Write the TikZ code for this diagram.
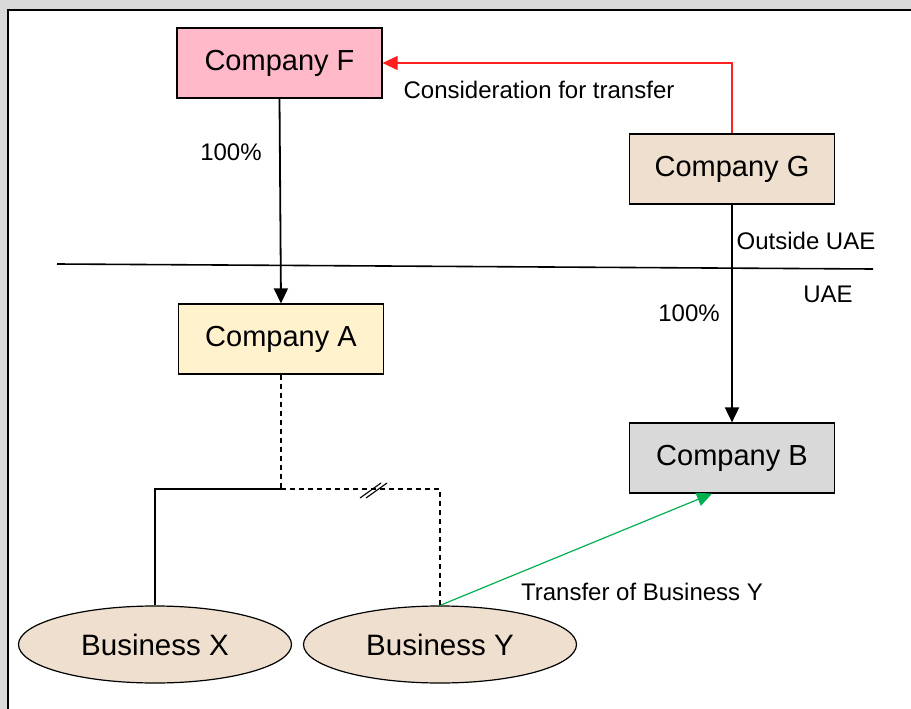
\documentclass[tikz,border=0pt]{standalone}
\usepackage{fontspec}
\setmainfont{Liberation Sans}
\usetikzlibrary{arrows.meta,shapes.geometric,calc}
\definecolor{pinkF}{HTML}{FFB9C8}
\definecolor{beige}{HTML}{EEDFCF}
\definecolor{yellowA}{HTML}{FFF2CC}
\definecolor{grayB}{HTML}{D9D9D9}
\definecolor{bggray}{HTML}{D9D9D9}
\definecolor{redline}{HTML}{FF2020}
\definecolor{greenline}{HTML}{00B050}
\newcommand{\lowtext}[1]{\raisebox{-5pt}{#1}}
\tikzset{
  company/.style={draw=black, line width=1.2pt, minimum width=205pt, minimum height=70pt, inner sep=0pt, font=\fontsize{29}{33}\selectfont},
  business/.style={ellipse, draw=black, line width=1.2pt, fill=beige, minimum width=273pt, minimum height=77pt, inner sep=0pt, font=\fontsize{29.5}{33}\selectfont},
  lbl/.style={font=\fontsize{24}{28}\selectfont, inner sep=0pt},
  conn/.style={line width=1.8pt, black},
  arr/.style={conn, -{Triangle[length=15pt,width=14pt]}},
}
\begin{document}
\begin{tikzpicture}[x=1pt,y=-1pt]
\useasboundingbox (0,0) rectangle (911,709);
\fill[bggray] (0,0) rectangle (911,709);
\filldraw[fill=white, draw=black, line width=2pt] (8,10) rectangle (930,730);

\node[company, fill=pinkF] (F) at (279.5,63) {\lowtext{Company F}};
\node[company, fill=beige] (G) at (732,169) {\lowtext{Company G}};
\node[company, fill=yellowA] (A) at (281,339) {\lowtext{Company A}};
\node[company, fill=grayB] (B) at (732,458) {\lowtext{Company B}};
\node[business] (X) at (155,644.5) {Business X};
\node[business] (Y) at (440,644.5) {Business Y};

% divider
\coordinate (dl) at (57,264);
\coordinate (dr) at (873,269);
\draw[line width=1.6pt] (dl) -- (dr);

% ownership arrows
\draw[arr] (F.south) -- (A.north);
\draw[arr] (G.south) -- (B.north);

% consideration
\draw[line width=1.2pt, redline, -{Triangle[length=15pt,width=14pt]}] (G.north) |- (F.east);

% transfer
\draw[line width=1.2pt, greenline, -{Triangle[length=15pt,width=14pt]}] (Y.north) -- ($(B.south)+(-20,0)$);

% tree
\coordinate (j) at (A.south |- 0,489);
\draw[conn, line width=1.2pt, dashed, dash pattern=on 5pt off 4pt] (A.south) -- (j);
\draw[conn, line width=1.4pt] (j) -- (X.north |- j) -- (X.north);
\draw[conn, line width=1.2pt, dashed, dash pattern=on 5pt off 4pt] (j) -- (Y.north |- j) -- (Y.north);
\coordinate (brk) at (373,490);
\draw[line width=1.1pt] ($(brk)+(-13,8)$) -- ($(brk)+(8,-7)$);
\draw[line width=1.1pt] ($(brk)+(-7,8)$) -- ($(brk)+(14,-7)$);

% labels
\node[lbl] (l1) at (231,152) {100\%};
\node[lbl] (l2) at (539,90) {Consideration for transfer};
\node[lbl] (l3) at (806,241) {Outside UAE};
\node[lbl] (l4) at (828,294) {UAE};
\node[lbl] (l5) at (689,313) {100\%};
\node[lbl] (l6) at (642,592) {Transfer of Business Y};
\end{tikzpicture}
\end{document}
